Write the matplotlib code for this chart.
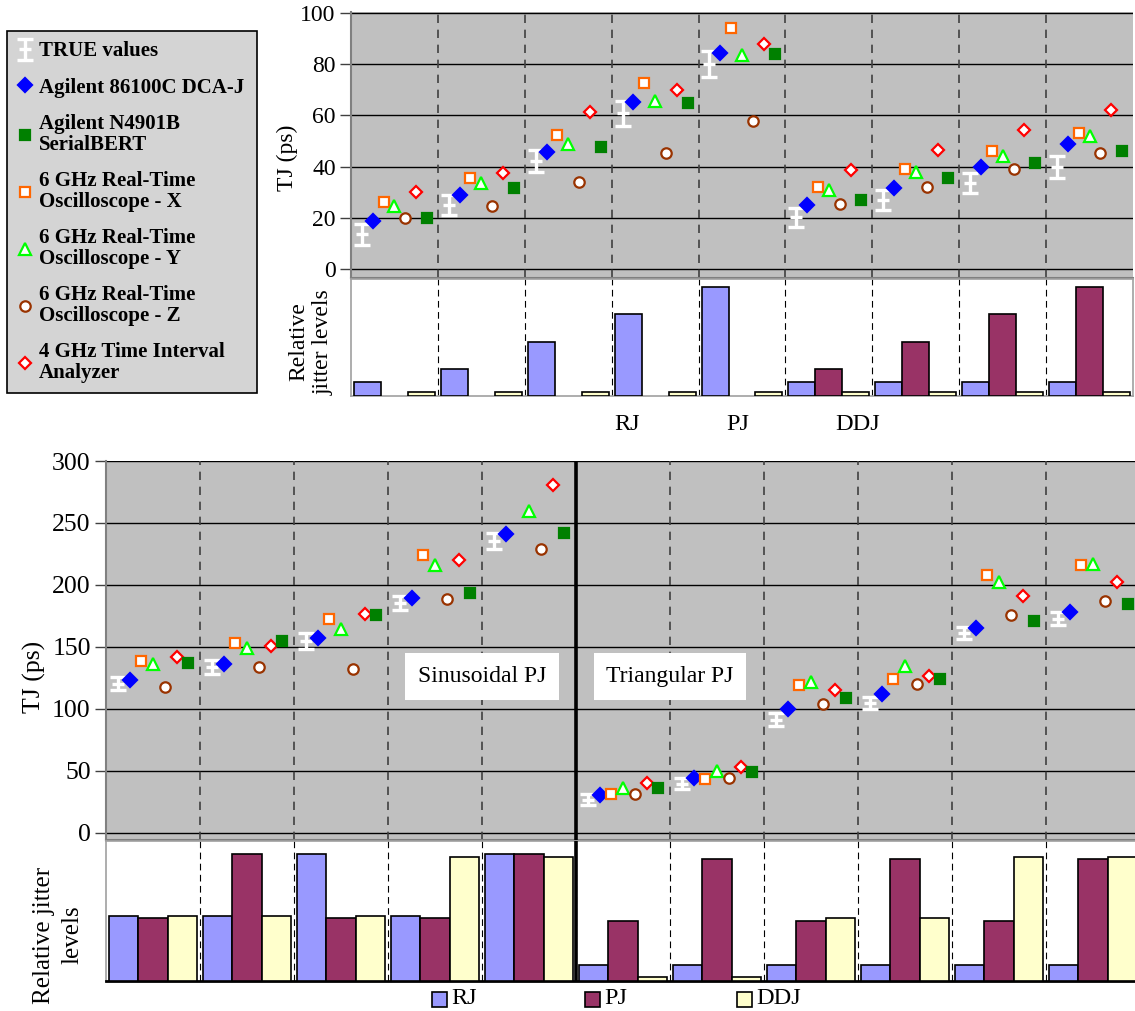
import numpy as np
import matplotlib
matplotlib.use("Agg")
import matplotlib.pyplot as plt
from matplotlib.patches import Rectangle

plt.rcParams["font.family"] = ["Liberation Serif", "DejaVu Serif"]

# ---- data ---------------------------------------------------------------
# upper chart: 9 settings (RJ sweep, then PJ sweep)
top_true = [13.5, 25.0, 42.3, 60.8, 80.0, 20.2, 27.0, 33.7, 40.0]
top_true_err = [4.0, 4.0, 4.3, 4.8, 5.0, 3.8, 3.9, 4.0, 4.3]
top_dca = [18.8, 28.9, 45.6, 65.2, 84.5, 25.0, 31.8, 39.7, 49.0]
top_bert = [19.8, 31.5, 47.8, 64.8, 84.0, 27.0, 35.4, 41.5, 46.2]
top_osc_x = [26.0, 35.4, 52.3, 72.5, 94.3, 32.2, 39.0, 46.2, 53.2]
top_osc_y = [24.7, 33.5, 48.8, 65.7, 83.6, 30.9, 38.0, 44.1, 52.0]
top_osc_z = [19.8, 24.5, 33.9, 45.4, 57.8, 25.4, 32.2, 39.0, 45.4]
top_tia = [30.2, 37.4, 61.2, 69.9, 87.8, 38.7, 46.5, 54.3, 62.1]

top_rj = [1, 2, 4, 6, 8, 1, 1, 1, 1]
top_pj = [0, 0, 0, 0, 0, 2, 4, 6, 8]
top_ddj = [0.3, 0.3, 0.3, 0.3, 0.3, 0.3, 0.3, 0.3, 0.3]

# lower chart: 5 sinusoidal PJ settings + 6 triangular PJ settings
bot_true = [120.3, 133.7, 154.7, 185.4, 235.4, 26.6, 39.6, 91.2, 104.6, 161.1, 172.8]
bot_true_err = [5.4, 5.4, 6.4, 5.9, 6.4, 4.5, 4.5, 5.0, 5.0, 5.0, 5.0]
bot_dca = [123.5, 136.4, 157.1, 189.4, 240.8, 30.1, 44.4, 100.1, 112.2, 165.5, 178.1]
bot_bert = [136.9, 155.0, 176.0, 193.4, 241.6, 36.0, 48.9, 108.7, 124.3, 170.8, 184.3]
bot_osc_x = [138.8, 153.4, 172.4, 224.1, np.nan, 31.5, 43.6, 119.5, 124.3, 207.7, 216.4]
bot_osc_y = [136.1, 148.8, 164.7, 216.4, 259.9, 36.3, 49.7, 121.6, 134.2, 202.3, 216.6]
bot_osc_z = [117.9, 134.0, 132.4, 188.6, 228.7, 31.5, 44.1, 103.6, 119.7, 176.0, 187.0]
bot_tia = [141.5, 150.9, 176.8, 219.8, 280.9, 40.4, 53.0, 115.4, 126.7, 191.0, 202.3]

bot_rj = [4.1, 4.1, 8, 4.1, 8, 1, 1, 1, 1, 1, 1]
bot_pj = [4, 8, 4, 4, 8, 3.8, 7.7, 3.8, 7.7, 3.8, 7.7]
bot_ddj = [4.1, 4.1, 4.1, 7.8, 7.8, 0.25, 0.25, 4, 4, 7.8, 7.8]

legend_labels = [
    "TRUE values",
    "Agilent 86100C DCA-J",
    "Agilent N4901B\nSerialBERT",
    "6 GHz Real-Time\nOscilloscope - X",
    "6 GHz Real-Time\nOscilloscope - Y",
    "6 GHz Real-Time\nOscilloscope - Z",
    "4 GHz Time Interval\nAnalyzer",
]
jitter_labels = ["RJ", "PJ", "DDJ"]

# marker styles, in left-to-right order inside a group
# (marker, edge colour, face colour, size)
STYLES = {
    "dca": ("D", "#0000FF", "#0000FF", 6.8),
    "x": ("s", "#FF6600", "white", 7.0),
    "y": ("^", "#00FF00", "white", 9.0),
    "z": ("o", "#993300", "white", 7.5),
    "tia": ("D", "#FF0000", "white", 6.2),
    "bert": ("s", "#008000", "#008000", 7.5),
}
ORDER = ["dca", "x", "y", "z", "tia", "bert"]
BAR_COLORS = ["#9999FF", "#993366", "#FFFFCC"]

W, H = 1135, 1011


def rect(left, top, right, bottom):
    return [left / W, 1 - bottom / H, (right - left) / W, (bottom - top) / H]


def scatter_panel(ax, true_v, true_err, meas, ylim, yticks, fs):
    n = len(true_v)
    centers = np.arange(n) + 0.5
    ax.set_facecolor("#C0C0C0")
    ax.set_xlim(0, n)
    ax.set_ylim(*ylim)
    ax.set_yticks(yticks)
    ax.yaxis.grid(True, color="black", lw=1)
    ax.set_axisbelow(True)
    for b in range(1, n):
        ax.axvline(b, color="#404040", lw=1.2, ls=(0, (5, 4)), zorder=1)
    eb = ax.errorbar(centers - 3 / 8, true_v, yerr=true_err, fmt="_", color="white",
                     ms=9, mew=2.4, elinewidth=2.4, capsize=6, capthick=2.4, zorder=3)
    handles = {"true": eb}
    for k, key in enumerate(ORDER, start=1):
        marker, ec, fc, ms = STYLES[key]
        h, = ax.plot(centers + (k - 3) / 8, meas[key], ls="none", marker=marker,
                     mec=ec, mfc=fc, ms=ms, mew=1.6, zorder=4)
        handles[key] = h
    ax.set_xticks([])
    ax.tick_params(axis="y", labelsize=fs, length=8, width=1, color="#404040", pad=3)
    for s in ("top", "right"):
        ax.spines[s].set_visible(False)
    for s in ("left", "bottom"):
        ax.spines[s].set_color("#808080")
        ax.spines[s].set_linewidth(1.5)
    return handles


def bar_panel(ax, rj, pj, ddj, ylim):
    n = len(rj)
    centers = np.arange(n) + 0.5
    w = 0.31
    for off, vals, col in zip((-w, 0, w), (rj, pj, ddj), BAR_COLORS):
        vals = np.asarray(vals, float)
        m = vals > 0
        ax.bar(centers[m] + off, vals[m], width=w, color=col, edgecolor="black",
               lw=1.2, zorder=3)
    for b in range(1, n):
        ax.axvline(b, color="black", lw=0.8, ls=(0, (6, 4)), zorder=1)
    ax.set_xlim(0, n)
    ax.set_ylim(*ylim)
    ax.set_xticks([])
    ax.set_yticks([])
    for s in ax.spines.values():
        s.set_color("#A0A0A0")
        s.set_linewidth(1.2)


fig = plt.figure(figsize=(W / 100, H / 100), dpi=100)

# ---- upper chart ---------------------------------------------------------
ax_t = fig.add_axes(rect(351, 12, 1133, 278))
h = scatter_panel(ax_t, top_true, top_true_err,
                  {"dca": top_dca, "x": top_osc_x, "y": top_osc_y, "z": top_osc_z,
                   "tia": top_tia, "bert": top_bert},
                  (-3.5, 100.4), range(0, 101, 20), 17)
ax_tb = fig.add_axes(rect(351, 279, 1133, 396))
bar_panel(ax_tb, top_rj, top_pj, top_ddj, (0, 8.6))

fig.text(287 / W, 1 - 158 / H, "TJ (ps)", rotation=90, ha="center", va="center",
         fontsize=17, zorder=10)
fig.text(311 / W, 1 - 342 / H, "Relative\njitter levels", rotation=90, ha="center",
         va="center", fontsize=17, linespacing=1.15, zorder=10)
for lab, xc in zip(jitter_labels, (627, 738, 858)):
    fig.text(xc / W, 1 - 425 / H, lab, ha="center", va="center", fontsize=17.5)

# ---- lower chart ---------------------------------------------------------
ax_b = fig.add_axes(rect(106, 461, 1140, 840))
scatter_panel(ax_b, bot_true, bot_true_err,
              {"dca": bot_dca, "x": bot_osc_x, "y": bot_osc_y, "z": bot_osc_z,
               "tia": bot_tia, "bert": bot_bert},
              (-6, 300), range(0, 301, 50), 18.5)
ax_bb = fig.add_axes(rect(106, 841, 1140, 981))
bar_panel(ax_bb, bot_rj, bot_pj, bot_ddj, (0, 8.82))
ax_bb.spines["bottom"].set_color("black")
ax_bb.spines["bottom"].set_linewidth(2)
for a in (ax_b, ax_bb):
    a.axvline(5, color="black", lw=2.6, zorder=6)

box = dict(facecolor="white", edgecolor="none", pad=9)
ax_b.text(4.0, 126, "Sinusoidal PJ", ha="center", va="center", fontsize=17, bbox=box, zorder=5)
ax_b.text(6.0, 126, "Triangular PJ", ha="center", va="center", fontsize=17, bbox=box, zorder=5)

fig.text(34 / W, 1 - 677 / H, "TJ (ps)", rotation=90, ha="center", va="center", fontsize=18.5)
fig.text(58 / W, 1 - 935 / H, "Relative jitter\nlevels", rotation=90, ha="center",
         va="center", fontsize=18, linespacing=1.35)

for lab, col, xs in zip(jitter_labels, BAR_COLORS, (432, 585, 737)):
    fig.add_artist(Rectangle((xs / W, 1 - 1007 / H), 15 / W, 15 / H, transform=fig.transFigure,
                             facecolor=col, edgecolor="black", lw=1.2))
    fig.text((xs + 19) / W, 1 - 999 / H, lab, ha="left", va="center", fontsize=17.5)

# ---- legend --------------------------------------------------------------
leg = fig.legend([h["true"], h["dca"], h["bert"], h["x"], h["y"], h["z"], h["tia"]],
                 legend_labels, loc="upper left",
                 bbox_to_anchor=(7 / W, 1 - 388 / H, 250 / W, 357 / H), mode="expand",
                 borderaxespad=0,
                 prop=dict(family="Liberation Serif", weight="bold", size=15),
                 facecolor="#D4D4D4", edgecolor="black", framealpha=1, fancybox=False,
                 labelspacing=0.78, handlelength=0.75, handletextpad=0.3, borderpad=0.5)
leg.get_frame().set_linewidth(1.2)
leg.set_zorder(5)
for t in leg.get_texts():
    t.set_linespacing(1.05)

fig.savefig("out.png", dpi=100)
